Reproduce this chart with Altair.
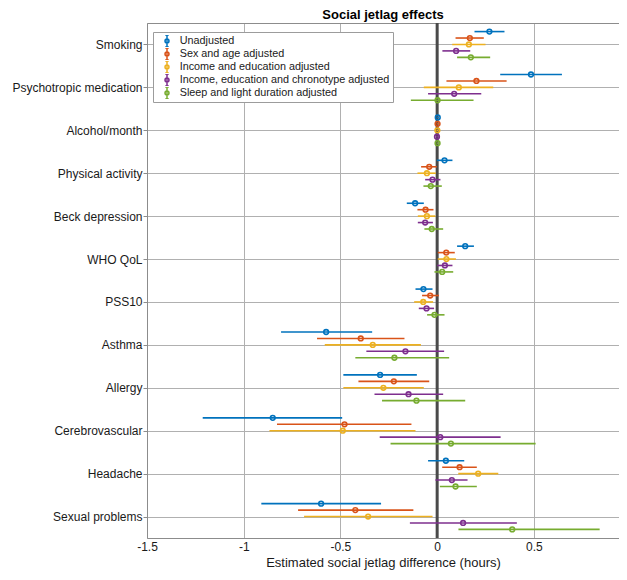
import altair as alt
import pandas as pd

categories = ["Smoking", "Psychotropic medication", "Alcohol/month", "Physical activity",
              "Beck depression", "WHO QoL", "PSS10", "Asthma", "Allergy",
              "Cerebrovascular", "Headache", "Sexual problems"]

series_names = ["Unadjusted", "Sex and age adjusted", "Income and education adjusted",
                "Income, education and chronotype adjusted", "Sleep and light duration adjusted"]
colors = ["#0072BD", "#D95319", "#EDB120", "#7E2F8E", "#77AC30"]

unadj_est = [0.270, 0.485, 0.003, 0.038, -0.114, 0.145, -0.071, -0.574, -0.295, -0.850, 0.045, -0.600]
unadj_lo = [0.193, 0.326, -0.002, -0.002, -0.157, 0.103, -0.112, -0.807, -0.485, -1.212, -0.047, -0.909]
unadj_hi = [0.348, 0.645, 0.008, 0.079, -0.069, 0.190, -0.024, -0.336, -0.105, -0.491, 0.140, -0.290]

sex_est = [0.169, 0.203, 0.002, -0.041, -0.060, 0.047, -0.036, -0.395, -0.224, -0.479, 0.116, -0.423]
sex_lo = [0.095, 0.048, -0.003, -0.083, -0.102, 0.003, -0.078, -0.621, -0.407, -0.828, 0.026, -0.719]
sex_hi = [0.241, 0.359, 0.007, -0.002, -0.019, 0.091, 0.009, -0.169, -0.041, -0.133, 0.205, -0.123]

inc_est = [0.164, 0.112, 0.001, -0.053, -0.053, 0.048, -0.072, -0.333, -0.278, -0.488, 0.212, -0.357]
inc_lo = [0.078, -0.069, -0.004, -0.102, -0.100, 0.003, -0.119, -0.581, -0.485, -0.867, 0.109, -0.688]
inc_hi = [0.250, 0.290, 0.006, -0.007, -0.009, 0.097, -0.021, -0.084, -0.069, -0.112, 0.316, -0.024]

chrono_est = [0.098, 0.088, -0.001, -0.024, -0.062, 0.040, -0.055, -0.164, -0.148, 0.016, 0.076, 0.134]
chrono_lo = [0.027, -0.047, -0.006, -0.062, -0.100, 0.000, -0.095, -0.366, -0.324, -0.297, -0.009, -0.141]
chrono_hi = [0.171, 0.228, 0.004, 0.017, -0.022, 0.079, -0.016, 0.036, 0.031, 0.328, 0.157, 0.412]

sleep_est = [0.174, 0.002, 0.002, -0.033, -0.028, 0.026, -0.014, -0.221, -0.107, 0.071, 0.095, 0.388]
sleep_lo = [0.103, -0.136, -0.003, -0.071, -0.066, -0.014, -0.052, -0.423, -0.285, -0.241, 0.014, 0.110]
sleep_hi = [0.274, 0.188, 0.007, 0.024, 0.031, 0.083, 0.038, 0.062, 0.145, 0.509, 0.205, 0.840]

x_ticks = [-1.5, -1, -0.5, 0, 0.5]

ests = [unadj_est, sex_est, inc_est, chrono_est, sleep_est]
los = [unadj_lo, sex_lo, inc_lo, chrono_lo, sleep_lo]
his = [unadj_hi, sex_hi, inc_hi, chrono_hi, sleep_hi]

rows = []
for si, name in enumerate(series_names):
    for ci, cat in enumerate(categories):
        rows.append(dict(category=cat, cat_index=ci + 1, series=name, series_index=si,
                         est=ests[si][ci], lo=los[si][ci], hi=his[si][ci]))
df = pd.DataFrame(rows)

FONT = "Liberation Sans"
AXIS_GRAY = "#8c8c8c"
GRID_GRAY = "#b0b0b0"
TEXT = "#1a1a1a"

x_scale = alt.Scale(domain=[-1.5, 0.94], nice=False, zero=False)
y_scale = alt.Scale(domain=[0.5, 12.5], reverse=True, nice=False, zero=False)
color_scale = alt.Scale(domain=series_names, range=colors)

label_expr = "[" + ",".join("'" + c + "'" for c in categories) + "][datum.value - 1]"

y_axis = alt.Axis(values=list(range(1, 13)), labelExpr=label_expr, title=None, grid=True,
                  tickSize=4, tickColor=AXIS_GRAY, labelPadding=1, labelFontSize=12,
                  labelColor=TEXT, labelFont=FONT, domainColor=AXIS_GRAY, gridColor=GRID_GRAY)
y_enc = alt.Y("pos:Q", scale=y_scale, axis=y_axis)

sym = ("M0,-1L0,1M-0.3,-1L0.3,-1M-0.3,1L0.3,1"
       "M-0.33,0A0.33,0.33 0 1,1 0.33,0A0.33,0.33 0 1,1 -0.33,0")

legend = alt.Legend(title=None, orient="none", legendX=6, legendY=9,
                    fillColor="white", strokeColor="#9c9c9c", padding=3,
                    rowPadding=1.0, clipHeight=12, symbolType=sym, symbolSize=144,
                    symbolStrokeWidth=1.5, symbolOffset=4, labelOffset=5.7,
                    symbolFillColor="transparent",
                    labelFontSize=10.8, labelColor=TEXT, labelFont=FONT, labelLimit=400)

base = alt.Chart(df).transform_calculate(
    pos="datum.cat_index + (datum.series_index - 2) * 0.15"
)

zero_line = alt.Chart(pd.DataFrame({"zero": [0]})).mark_rule(
    color="#4a4a4a", strokeWidth=3
).encode(
    x=alt.X("zero:Q", scale=x_scale,
            axis=alt.Axis(orient="top", labels=False, ticks=False, grid=False,
                          domainColor=AXIS_GRAY, title=None))
)

bars = base.mark_rule(strokeWidth=1.6).encode(
    x=alt.X("lo:Q", scale=x_scale, axis=None),
    x2="hi:Q",
    y=y_enc,
    color=alt.Color("series:N", scale=color_scale, legend=legend),
)

points = base.mark_point(filled=False, size=22, strokeWidth=1.6, opacity=1).encode(
    x=alt.X("est:Q", scale=x_scale,
            axis=alt.Axis(values=x_ticks, labelExpr="'' + datum.value",
                          title="Estimated social jetlag difference (hours)",
                          grid=True, gridColor=GRID_GRAY, tickSize=0, labelPadding=3,
                          labelFlush=False,
                          labelFontSize=12, labelColor=TEXT, labelFont=FONT,
                          domainColor=AXIS_GRAY, titleFontSize=13, titleFontWeight="normal",
                          titleColor=TEXT, titleFont=FONT, titlePadding=4)),
    y=y_enc,
    color=alt.Color("series:N", scale=color_scale, legend=legend),
)

chart = alt.layer(zero_line, bars, points).resolve_axis(x="independent").properties(
    width=472, height=515,
    padding={"left": 139, "top": 15, "right": 0, "bottom": 33},
    autosize=alt.AutoSizeParams(type="none"),
    title=alt.TitleParams("Social jetlag effects", fontSize=13, fontWeight="bold",
                          font=FONT, color="#000", offset=0, anchor="middle"),
).configure_view(stroke=None).configure(font=FONT, background="white")

chart.save("out.html", embed_options={"renderer": "svg", "actions": False})
